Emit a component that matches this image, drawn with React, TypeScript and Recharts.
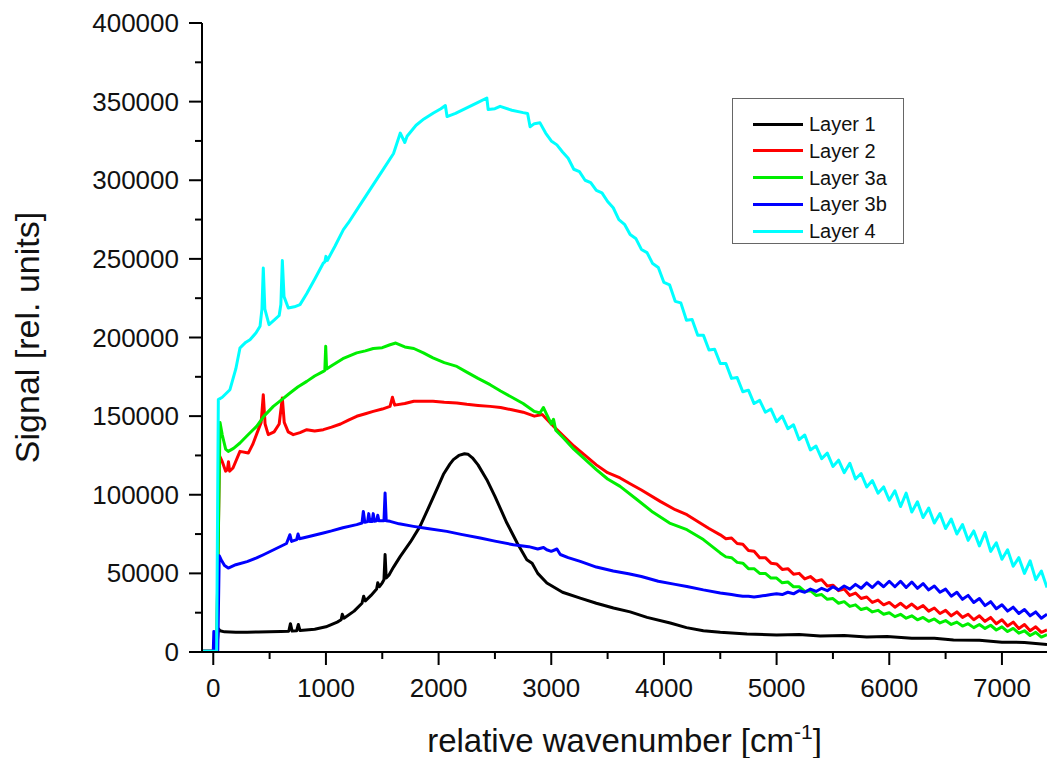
import { LineChart, Line, XAxis, YAxis, Legend } from "recharts";

// spectra as [wavenumber (cm-1), signal (thousands of rel. units)]
const layer1: [number, number][] = [
  [-100, 0.5], [30, 0.5], [45, 14.8], [60, 13.5], [100, 12.8], [200, 12.5], [300, 12.6], [400, 12.7],
  [500, 12.8], [600, 13], [670, 13.2], [685, 18], [700, 13.3], [740, 13.5], [755, 17.5], [770, 13.6],
  [900, 14.5], [1000, 16], [1100, 19], [1135, 20.5], [1145, 24], [1160, 21.5], [1250, 26], [1320, 31],
  [1335, 35.5], [1350, 32.5], [1400, 36], [1450, 40], [1460, 44], [1475, 41.5], [1500, 44], [1515, 46],
  [1525, 62], [1535, 47], [1560, 49], [1600, 54], [1660, 60.8], [1750, 70], [1835, 79.9], [1900, 90],
  [2000, 106], [2043, 113], [2100, 119.5], [2131, 122.3], [2180, 125], [2230, 126.1], [2260, 125.8],
  [2300, 123.5], [2350, 119], [2428, 109.6], [2500, 99], [2606, 82], [2700, 69], [2783, 58.7],
  [2830, 56.5], [2880, 50], [2961, 43.9], [3100, 38], [3257, 34.3], [3400, 31], [3552, 28], [3700, 25.5],
  [3850, 22], [4056, 18.4], [4200, 15.5], [4350, 13.5], [4500, 12.5], [4737, 11.4], [5000, 10.8],
  [5200, 11.2], [5388, 10.2], [5600, 10.5], [5800, 9.6], [5980, 9.9], [6200, 8.7], [6400, 8.8],
  [6570, 7.6], [6800, 7.4], [7000, 6.2], [7200, 6.1], [7400, 4.8],
];

const layer2: [number, number][] = [
  [-100, 0.5], [30, 0.5], [55, 124.8], [80, 121], [110, 115], [125, 116], [135, 121], [145, 115],
  [175, 117], [237, 127.6], [311, 126.5], [350, 132], [400, 141.4], [425, 146], [444, 163.6], [460, 145],
  [488, 138.2], [540, 140], [585, 145], [613, 161.5], [630, 146], [665, 140], [710, 138.2], [770, 139.5],
  [830, 141.4], [900, 140.5], [977, 141.4], [1050, 143], [1130, 145], [1200, 147.5], [1273, 149.9],
  [1350, 151.5], [1420, 153], [1500, 154.5], [1569, 156.2], [1590, 162], [1610, 157], [1700, 158],
  [1780, 159.5], [1865, 159.4], [1950, 159.5], [2050, 158.8], [2162, 158.4], [2250, 157.5], [2350, 156.8],
  [2457, 156.2], [2550, 155.5], [2650, 154], [2750, 152.5], [2850, 150], [2920, 151], [2960, 148],
  [3000, 145], [3050, 141.4], [3100, 138], [3200, 131], [3300, 125], [3400, 119], [3500, 114],
  [3611, 110.7], [3700, 107], [3800, 103], [3967, 95.8], [4100, 90.5], [4204, 87.3], [4300, 83],
  [4400, 78.5], [4500, 74.5], [4550, 72], [4600, 72.5], [4650, 69], [4700, 68.5], [4750, 64.5],
  [4800, 64], [4850, 60], [4900, 60], [4950, 56.5], [5000, 56], [5050, 52.5], [5100, 53], [5150, 49.5],
  [5200, 50], [5250, 46.5], [5300, 48], [5350, 45], [5400, 46], [5450, 42], [5500, 42.5], [5550, 39],
  [5600, 40], [5650, 36], [5700, 37.5], [5750, 34], [5800, 35], [5850, 31.5], [5900, 33], [5950, 30],
  [6000, 31.5], [6050, 28.5], [6100, 31], [6150, 28], [6200, 30.5], [6250, 27.5], [6300, 29.5],
  [6350, 26], [6400, 28], [6450, 24.5], [6500, 26.5], [6550, 23], [6600, 25.5], [6650, 22], [6700, 24],
  [6750, 20.5], [6800, 23], [6850, 19.5], [6900, 22], [6950, 18], [7000, 20.5], [7050, 16.5],
  [7100, 19], [7150, 15], [7200, 17.5], [7250, 13.5], [7300, 16], [7350, 12.5], [7400, 14],
];

const layer3a: [number, number][] = [
  [-100, 0.5], [30, 0.5], [60, 146], [80, 138], [110, 129], [133, 127.6], [180, 129.5], [237, 132.9],
  [300, 137.5], [385, 143.5], [450, 150], [533, 156.2], [600, 160], [681, 164.7], [750, 168.5],
  [830, 172.1], [900, 175.5], [977, 178.5], [990, 179], [998, 194.4], [1006, 180], [1050, 182],
  [1150, 186.5], [1273, 190.2], [1350, 191.5], [1420, 193], [1500, 193.5], [1569, 195.4], [1620, 196.5],
  [1700, 194], [1780, 193], [1865, 190.2], [1950, 187], [2050, 184], [2162, 181.6], [2250, 178],
  [2350, 174], [2457, 170], [2550, 166], [2650, 162], [2750, 158], [2850, 153], [2900, 152],
  [2930, 155.5], [2960, 151], [3000, 145], [3020, 148], [3040, 141], [3108, 136.1], [3200, 129],
  [3300, 122.5], [3400, 116], [3500, 110], [3611, 105.3], [3760, 97], [3900, 89], [4050, 82],
  [4204, 77.8], [4350, 71.5], [4500, 63], [4550, 60.5], [4600, 60], [4650, 57], [4700, 56.5],
  [4750, 53], [4800, 53], [4850, 50], [4900, 50], [4950, 47], [5000, 47], [5050, 44], [5100, 44.5],
  [5150, 41.5], [5200, 41.5], [5250, 38.5], [5300, 39], [5350, 36], [5400, 36.5], [5450, 33.5],
  [5500, 34], [5550, 31], [5600, 32], [5650, 29], [5700, 30], [5750, 27], [5800, 28], [5850, 25.5],
  [5900, 26.5], [5950, 24], [6000, 25], [6050, 22.5], [6100, 24], [6150, 21.5], [6200, 23], [6250, 20.5],
  [6300, 22], [6350, 19.5], [6400, 21], [6450, 18.5], [6500, 20], [6550, 17.5], [6600, 19], [6650, 16.5],
  [6700, 18], [6750, 15.5], [6800, 17.5], [6850, 15], [6900, 17], [6950, 14], [7000, 16], [7050, 13],
  [7100, 15], [7150, 12], [7200, 13.5], [7250, 10.5], [7300, 12.5], [7350, 9.5], [7400, 11],
];

const layer3b: [number, number][] = [
  [-100, 0.5], [0, 0.5], [5, 13], [15, 1], [40, 1], [53, 61.2], [75, 58], [100, 55], [133, 53.4],
  [200, 55.5], [300, 57.5], [385, 59.8], [450, 62], [550, 65.5], [650, 69], [680, 74.6], [695, 70.3],
  [740, 71.5], [752, 75], [765, 72], [850, 73.5], [977, 75.7], [1050, 77], [1150, 79], [1273, 81],
  [1320, 82], [1332, 89.4], [1345, 82.5], [1370, 83], [1380, 88], [1390, 83], [1410, 83], [1420, 88],
  [1430, 83.2], [1450, 83.5], [1460, 87], [1470, 83.5], [1515, 83.5], [1525, 101.1], [1535, 83.5],
  [1569, 83.1], [1650, 81.5], [1777, 79.9], [1900, 78.5], [2073, 76.7], [2200, 74.8], [2369, 72.5],
  [2500, 70.5], [2664, 68.2], [2800, 67], [2880, 65.5], [2931, 66.5], [2960, 65], [3000, 64],
  [3050, 65.5], [3080, 62], [3150, 60], [3257, 57.6], [3400, 54], [3550, 51.5], [3686, 49.8],
  [3800, 48], [3950, 45], [4100, 43], [4204, 41.7], [4350, 39.5], [4500, 37.5], [4550, 37], [4600, 36.5],
  [4650, 36], [4700, 35.5], [4750, 35.5], [4800, 35], [4850, 35.5], [4900, 36], [4950, 36.5], [5000, 37],
  [5050, 36.5], [5100, 38], [5150, 37], [5200, 39], [5250, 38], [5300, 40], [5350, 38.5], [5400, 40.5],
  [5450, 39], [5500, 41.5], [5550, 39.5], [5600, 42], [5650, 40], [5700, 43], [5750, 40.5], [5800, 44],
  [5850, 41], [5900, 44.5], [5950, 41.5], [6000, 45], [6050, 41.5], [6100, 45], [6150, 41], [6200, 44.5],
  [6250, 40.5], [6300, 43.5], [6350, 39.5], [6400, 42], [6450, 38], [6500, 40], [6550, 35.5], [6600, 38],
  [6650, 33.5], [6700, 36], [6750, 31.5], [6800, 34], [6850, 29.5], [6900, 32], [6950, 27.5], [7000, 30],
  [7050, 26], [7100, 28.5], [7150, 24.5], [7200, 27], [7250, 23], [7300, 25.5], [7350, 21.5], [7400, 24],
];

const layer4: [number, number][] = [
  [-100, 0.5], [30, 0.5], [45, 160.5], [80, 162], [148, 166.8], [200, 180], [237, 193.3], [260, 195],
  [290, 197], [326, 198.6], [380, 203], [415, 207.1], [432, 218], [444, 244.2], [458, 218], [495, 208.2],
  [540, 211], [585, 214], [600, 221], [613, 249], [628, 226], [666, 218.8], [720, 219.5], [770, 220.9],
  [830, 228], [900, 237], [977, 247.4], [990, 248], [1000, 251.6], [1012, 249], [1080, 258],
  [1155, 268.6], [1200, 273], [1300, 284], [1400, 295], [1500, 306], [1600, 317], [1660, 330],
  [1700, 324], [1720, 328], [1800, 335], [1870, 339], [1954, 342.8], [2020, 345.5], [2060, 347.5],
  [2075, 340.5], [2150, 342.5], [2250, 346], [2350, 349.5], [2428, 352.3], [2440, 345], [2500, 345.5],
  [2546, 347], [2650, 344.5], [2750, 343], [2790, 342.5], [2812, 334], [2850, 336], [2900, 336.5],
  [2950, 330], [3000, 325], [3050, 322.5], [3100, 318], [3150, 314], [3200, 307], [3250, 305.5],
  [3300, 300], [3350, 298.5], [3400, 293.5], [3450, 292], [3500, 286.5], [3550, 282.5], [3600, 275],
  [3650, 272], [3700, 265.5], [3750, 263], [3800, 256], [3850, 254], [3900, 247], [3950, 244.5],
  [4000, 235], [4050, 233.5], [4100, 223], [4150, 222], [4200, 211], [4250, 211.5], [4300, 201.5],
  [4350, 201.5], [4400, 192], [4450, 192.5], [4500, 183.5], [4550, 183.5], [4600, 174], [4650, 174.5],
  [4700, 165.5], [4750, 166.5], [4800, 158], [4850, 160], [4900, 152.5], [4950, 154.5], [5000, 146.5],
  [5050, 150], [5100, 142], [5150, 144.5], [5200, 135], [5250, 138], [5300, 128.5], [5350, 131],
  [5400, 123], [5450, 126.5], [5500, 118], [5550, 122], [5600, 114], [5650, 120], [5700, 110],
  [5750, 113.5], [5800, 105], [5850, 109], [5900, 101], [5950, 105], [6000, 96.5], [6050, 102.5],
  [6100, 92.5], [6150, 101], [6200, 89], [6250, 95.5], [6300, 85.5], [6350, 91.5], [6400, 82],
  [6450, 88], [6500, 78.5], [6550, 84.5], [6600, 75], [6650, 81], [6700, 71], [6750, 77], [6800, 67.5],
  [6850, 76], [6900, 64], [6950, 69.5], [7000, 59], [7050, 65], [7100, 54.5], [7150, 60], [7200, 50],
  [7250, 58], [7300, 46], [7350, 51.5], [7400, 41],
];

const xTicks = [0, 500, 1000, 1500, 2000, 2500, 3000, 3500, 4000, 4500, 5000, 5500, 6000, 6500, 7000];
const xLabelTicks = [0, 1000, 2000, 3000, 4000, 5000, 6000, 7000];
const yTicks = [
  0, 25000, 50000, 75000, 100000, 125000, 150000, 175000, 200000, 225000, 250000, 275000, 300000,
  325000, 350000, 375000, 400000,
];
const yLabelTicks = [0, 50000, 100000, 150000, 200000, 250000, 300000, 350000, 400000];

const FONT = "'Liberation Sans', Arial, Helvetica, sans-serif";

const series = [
  { name: "Layer 1", color: "#000000", points: layer1 },
  { name: "Layer 2", color: "#ff0000", points: layer2 },
  { name: "Layer 3a", color: "#00ee00", points: layer3a },
  { name: "Layer 3b", color: "#0000ff", points: layer3b },
  { name: "Layer 4", color: "#00ffff", points: layer4 },
];

function BottomTick({ x, y, payload }: any) {
  const major = xLabelTicks.includes(payload.value);
  return (
    <g>
      <line x1={x} x2={x} y1={y} y2={y + (major ? 13 : 7)} stroke="#000" strokeWidth={2} />
      {major && (
        <text x={x} y={y + 45} textAnchor="middle" fontSize={26} fontFamily={FONT} fill="#111">
          {payload.value}
        </text>
      )}
    </g>
  );
}

function TopTick({ x, y, payload }: any) {
  const major = xLabelTicks.includes(payload.value);
  return <line x1={x} x2={x} y1={y} y2={y + (major ? 13 : 7)} stroke="#000" strokeWidth={2} />;
}

function LeftTick({ x, y, payload }: any) {
  const major = yLabelTicks.includes(payload.value);
  return (
    <g>
      <line x1={x - (major ? 13 : 7)} x2={x} y1={y} y2={y} stroke="#000" strokeWidth={2} />
      {major && (
        <text x={x - 23} y={y + 9} textAnchor="end" fontSize={26} fontFamily={FONT} fill="#111">
          {payload.value}
        </text>
      )}
    </g>
  );
}

function XTitle(props: any) {
  const vb = props.viewBox || { x: 202, width: 845 };
  return (
    <text x={vb.x + vb.width / 2} y={752} textAnchor="middle" fontSize={33} fontFamily={FONT} fill="#111">
      relative wavenumber [cm
      <tspan dy={-13} fontSize={21}>-1</tspan>
      <tspan dy={13}>]</tspan>
    </text>
  );
}

function YTitle(props: any) {
  const vb = props.viewBox || { y: 23, height: 629 };
  const cy = vb.y + vb.height / 2;
  return (
    <text
      x={39}
      y={cy}
      transform={`rotate(-90, 39, ${cy})`}
      textAnchor="middle"
      fontSize={34}
      fontFamily={FONT}
      fill="#111"
    >
      Signal [rel. units]
    </text>
  );
}

function LegendBox({ payload }: any) {
  return (
    <div
      style={{
        position: "relative",
        width: 172,
        height: 146,
        boxSizing: "border-box",
        border: "1.5px solid #666",
        background: "#fff",
        fontFamily: FONT,
        fontSize: 20,
        color: "#111",
      }}
    >
      {(payload || []).map((p: any, i: number) => (
        <div
          key={p.value}
          style={{ position: "absolute", left: 20, top: 12 + i * 26.8, height: 26, display: "flex", alignItems: "center" }}
        >
          <div style={{ width: 50, height: 3, background: p.color }} />
          <span style={{ marginLeft: 6, lineHeight: "26px" }}>{p.value}</span>
        </div>
      ))}
    </div>
  );
}

export default function App() {
  return (
    <div
      style={{
        position: "absolute",
        left: 0,
        top: 0,
        width: 1047,
        height: 758,
        overflow: "hidden",
        background: "#fff",
      }}
    >
      <LineChart width={1047} height={758} margin={{ top: 23, right: 0, bottom: 0, left: 0 }}>
        <XAxis
          xAxisId="top"
          orientation="top"
          type="number"
          dataKey="x"
          domain={[-100, 7400]}
          allowDataOverflow
          ticks={xTicks}
          interval={0}
          height={0}
          tickSize={0}
          tickMargin={0}
          tickLine={false}
          tick={<TopTick />}
          axisLine={{ stroke: "#000", strokeWidth: 2 }}
        />
        <XAxis
          xAxisId="bottom"
          orientation="bottom"
          type="number"
          dataKey="x"
          domain={[-100, 7400]}
          allowDataOverflow
          ticks={xTicks}
          interval={0}
          height={106}
          tickSize={0}
          tickMargin={0}
          tickLine={false}
          tick={<BottomTick />}
          axisLine={{ stroke: "#000", strokeWidth: 2 }}
          label={{ content: XTitle }}
        />
        <YAxis
          yAxisId="left"
          type="number"
          domain={[0, 400000]}
          allowDataOverflow
          ticks={yTicks}
          interval={0}
          width={202}
          tickSize={0}
          tickMargin={0}
          tickLine={false}
          tick={<LeftTick />}
          axisLine={{ stroke: "#000", strokeWidth: 2 }}
          label={{ content: YTitle }}
        />
        <Legend
          layout="vertical"
          align="center"
          verticalAlign="middle"
          content={<LegendBox />}
          wrapperStyle={{ left: 732, top: 98, width: 172, height: 146 }}
        />
        {series.map((s) => (
          <Line
            key={s.name}
            name={s.name}
            xAxisId="bottom"
            yAxisId="left"
            type="linear"
            data={s.points.map(([x, v]) => ({ x, y: v * 1000 }))}
            dataKey="y"
            stroke={s.color}
            strokeWidth={3}
            strokeLinejoin="round"
            dot={false}
            activeDot={false}
            isAnimationActive={false}
          />
        ))}
      </LineChart>
    </div>
  );
}
